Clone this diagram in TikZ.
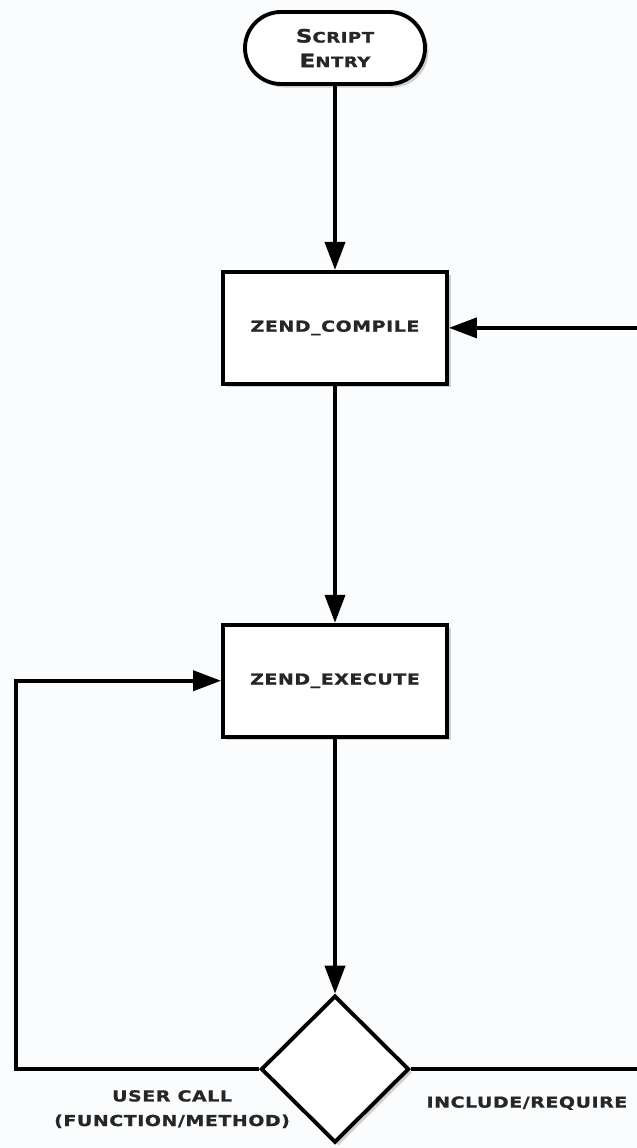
\documentclass[tikz,border=0pt]{standalone}
\usepackage{fontspec}
\newfontfamily\gothic[FakeStretch=1.25,LetterSpace=4,FakeBold=1.2]{DejaVu Sans}
\usetikzlibrary{shapes,arrows.meta,positioning,shadows}
\definecolor{bgpaper}{RGB}{250,252,254}
\newcommand{\fakesc}[2]{{\fontsize{10.5}{14}\selectfont #1}{\fontsize{8.2}{14}\selectfont #2}}

\begin{document}
\begin{tikzpicture}[
  base/.style={draw,fill=white,line width=2.2pt,align=center,text=black!85,
    font=\gothic\bfseries\fontsize{8.6}{14}\selectfont,
    drop shadow={shadow xshift=2pt,shadow yshift=-2pt,opacity=0.35}},
  box/.style={base,rectangle,minimum width=4.48cm,minimum height=2.24cm},
  startstop/.style={base,rectangle,rounded corners=0.72cm,minimum width=3.6cm,minimum height=1.44cm},
  decision/.style={base,diamond,inner sep=0pt,minimum width=2.96cm,minimum height=2.94cm},
  lbl/.style={inner sep=0pt,align=center,text=black!85,font=\gothic\bfseries\fontsize{8.6}{14}\selectfont},
  arrow/.style={-{Triangle[length=0.56cm,width=0.4cm]},line width=2.2pt},
  line/.style={line width=2.2pt}
]
\useasboundingbox (0,0) rectangle (12.74,-22.96);
\fill[bgpaper] (0,0) rectangle (12.74,-22.96);

\node[startstop] (entry) at (6.70,-0.96) {\fakesc{S}{CRIPT}\\\fakesc{E}{NTRY}};
\node[box,below=3.68cm of entry] (compile) {ZEND\_COMPILE};
\node[box,below=4.74cm of compile] (execute) {ZEND\_EXECUTE};
\node[decision,below=5.1cm of execute] (decide) {};
\node[lbl] (usercall) at ([shift={(-1.74cm,-0.8cm)}]decide.west) {USER CALL\\(FUNCTION/METHOD)};
\node[lbl] (include) at ([shift={(2.32cm,-0.68cm)}]decide.east) {INCLUDE/REQUIRE};

\coordinate (loopleft) at (0.32,0);
\coordinate (redge) at (12.9,0);

\draw[arrow] (entry) -- (compile);
\draw[arrow] (compile) -- (execute);
\draw[arrow] (execute) -- (decide);
\draw[arrow] (decide.west) -- (decide.west -| loopleft) |- (execute.west);
\draw[line] (decide.east) -- (decide.east -| redge);
\draw[arrow] (compile.east -| redge) -- (compile.east);
\end{tikzpicture}
\end{document}
